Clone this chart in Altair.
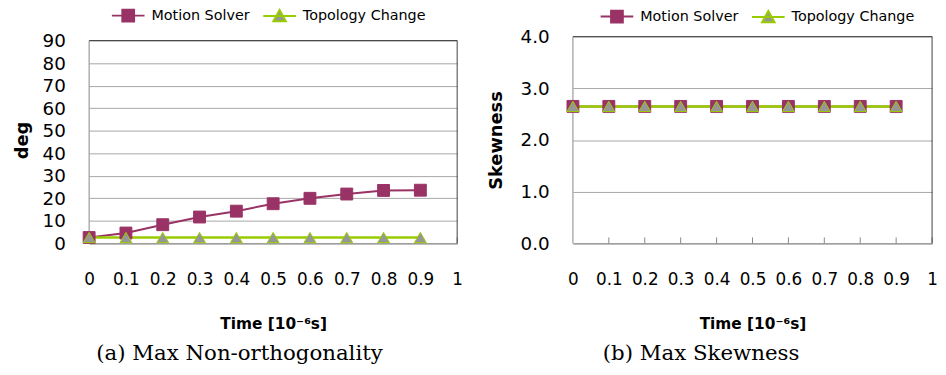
import altair as alt
import pandas as pd

# ---------------- data ----------------
times = [0.0, 0.1, 0.2, 0.3, 0.4, 0.5, 0.6, 0.7, 0.8, 0.9]
series_names = ["Motion Solver", "Topology Change"]

nonortho_motion = [2.6, 4.6, 8.3, 11.7, 14.3, 17.6, 20.0, 21.9, 23.5, 23.6]
nonortho_topology = [2.6, 2.6, 2.6, 2.6, 2.6, 2.6, 2.6, 2.6, 2.6, 2.6]

skew_motion = [2.65, 2.65, 2.65, 2.65, 2.65, 2.65, 2.65, 2.65, 2.65, 2.65]
skew_topology = [2.65, 2.65, 2.65, 2.65, 2.65, 2.65, 2.65, 2.65, 2.65, 2.65]

x_tick_values = [0, 0.1, 0.2, 0.3, 0.4, 0.5, 0.6, 0.7, 0.8, 0.9, 1.0]
y_ticks_left = [0, 10, 20, 30, 40, 50, 60, 70, 80, 90]
y_ticks_right = [0.0, 1.0, 2.0, 3.0, 4.0]

x_title = "Time [10\u207b\u2076s]"
caption_left = "(a) Max Non-orthogonality"
caption_right = "(b) Max Skewness"

# ---------------- style ----------------
LINE_COLORS = ["#993366", "#99cc00"]
FILL_COLORS = ["#993366", "#969696"]
LINE_WIDTHS = [2, 2.5]
SANS = "DejaVu Sans"
SERIF = "DejaVu Serif"
DARK = "#404040"
GRAY = "#868686"

LEG_MS = "M-1,0H1M-0.36,-0.36H0.36V0.36H-0.36Z"
LEG_TC = "M-1,0H1M0,-0.36L0.38,0.32L-0.38,0.32Z"

PANEL_H = 209


def panel(motion, topology, yvalues, yfmt, ytitle, w, plot_h,
          leg_x, leg_y, caption, cap_dx, ytitle_pad):
    ymax = yvalues[-1]
    # the drawn frame is plot_h tall, bottom-aligned inside the PANEL_H cell
    ytop = ymax * PANEL_H / plot_h

    df = pd.DataFrame({
        "time": times + times,
        "value": motion + topology,
        "series": [series_names[0]] * len(times) + [series_names[1]] * len(times),
    })
    ticks_df = pd.DataFrame({"time": x_tick_values[1:]})
    one = pd.DataFrame({"k": [0]})

    x_scale = alt.Scale(domain=[0, 1], nice=False, zero=False)
    y_scale = alt.Scale(domain=[0, ytop], nice=False)
    x_axis = alt.Axis(values=x_tick_values, format=".1~f", labelFlush=False,
                      labelOverlap=False, title=x_title, grid=False, ticks=False,
                      labelPadding=29, titlePadding=29,
                      labelFontSize=17, titleFontSize=15.5)
    y_axis = alt.Axis(values=yvalues, format=yfmt, title=ytitle, grid=True,
                      domain=False, labelOverlap=False, ticks=False, labelPadding=24,
                      titlePadding=ytitle_pad, labelFontSize=18.5, titleFontSize=18)
    x = alt.X("time:Q", scale=x_scale, axis=x_axis)
    y = alt.Y("value:Q", scale=y_scale, axis=y_axis)

    def xd(v):
        return alt.XDatum(v, type="quantitative", scale=x_scale, axis=x_axis)

    def yd(v):
        return alt.YDatum(v, type="quantitative", scale=y_scale, axis=y_axis)

    def frame_rule(x1, x2, y1, y2, color):
        return alt.Chart(one).mark_rule(color=color, strokeWidth=1).encode(
            x=xd(x1), x2=alt.datum(x2), y=yd(y1), y2=alt.datum(y2))

    sc = lambda rng: alt.Scale(domain=series_names, range=rng)

    lines = alt.Chart(df).mark_line().encode(
        x=x, y=y,
        stroke=alt.Stroke("series:N", scale=sc(LINE_COLORS), legend=None),
        strokeWidth=alt.StrokeWidth("series:N", scale=sc(LINE_WIDTHS), legend=None),
    )

    tick_rules = alt.Chart(ticks_df).mark_rule(color=GRAY, strokeWidth=1).encode(
        x=x, y=yd(0), y2=alt.datum(ytop * 6.0 / PANEL_H))

    top_border = frame_rule(0, 1, ymax, ymax, DARK)
    right_border = frame_rule(1, 1, 0, ymax, DARK)
    left_border = frame_rule(0, 0, 0, ymax, GRAY)

    points = alt.Chart(df).mark_point(filled=True, size=144, strokeWidth=1, opacity=1).encode(
        x=x, y=y,
        shape=alt.Shape("series:N", scale=sc(["square", "triangle-up"]), legend=None),
        fill=alt.Fill("series:N", scale=sc(FILL_COLORS), legend=None),
        stroke=alt.Stroke("series:N", scale=sc(LINE_COLORS), legend=None),
    )

    leg = alt.Legend(orient="none", legendX=leg_x, legendY=leg_y, direction="horizontal",
                     title=None, symbolSize=1089, symbolStrokeWidth=2, symbolOpacity=1,
                     labelFont=SANS, labelFontSize=14.5, labelColor="black",
                     labelOffset=6, columnPadding=9, padding=0)
    legend_layer = alt.Chart(df).mark_point(filled=True, size=0).encode(
        x=x, y=y,
        shape=alt.Shape("series:N", scale=sc([LEG_MS, LEG_TC]), legend=leg),
        fill=alt.Fill("series:N", scale=sc(FILL_COLORS), legend=leg),
        stroke=alt.Stroke("series:N", scale=sc(LINE_COLORS), legend=leg),
    )

    return alt.layer(lines, tick_rules, left_border, top_border, right_border,
                     points, legend_layer).resolve_scale(
        shape="independent", fill="independent", stroke="independent",
        strokeWidth="independent"
    ).properties(
        width=w, height=PANEL_H,
        title=alt.TitleParams(caption, orient="bottom", font=SERIF, fontSize=21.5,
                              fontWeight="normal", color="black", anchor="middle",
                              frame="group", dx=cap_dx, offset=11),
    )


left = panel(nonortho_motion, nonortho_topology, y_ticks_left, "d", "deg",
             372, 205, 22, -39, caption_left, -34, 11)
right = panel(skew_motion, skew_topology, y_ticks_right, ".1f", "Skewness",
              363, 209, 27, -38, caption_right, -52, 15)

chart = alt.hconcat(left, right, spacing=24).properties(
    padding={"left": 5, "top": -12, "right": 0, "bottom": 0},
    background="white",
).configure_view(
    stroke=None
).configure_axis(
    labelFont=SANS, titleFont=SANS, labelColor="black", titleColor="black",
    titleFontWeight="bold", domainColor=GRAY, domainWidth=1,
    gridColor="#a6a6a6", gridWidth=1,
)

chart.save("out.html", embed_options={"renderer": "svg", "actions": False})
